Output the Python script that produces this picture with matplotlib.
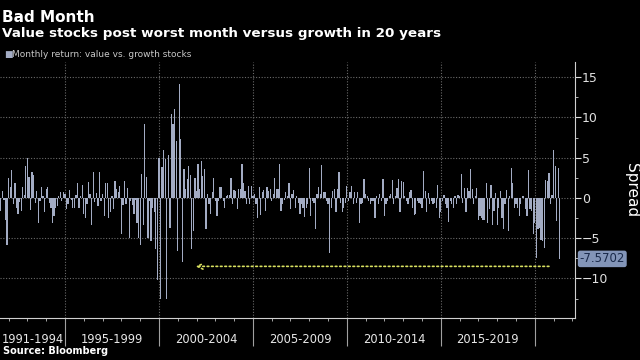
import numpy as np
import matplotlib.pyplot as plt
from matplotlib.ticker import MultipleLocator
from matplotlib.transforms import blended_transform_factory

# monthly spread (value minus growth), first bar is Aug 1991
start_month = 7
spread_a = [-1.6, 0.9, -0.3, -2.8, -5.9, 2.5, 1.3, 3.5, -0.8, 1.8, -1.2, -2.0, -0.5, -1.6, 1.3, 0.4,
            4.0, 5.0, 2.6, -1.5, 3.2, 2.8, -0.6, 0.9, -3.1, -0.4, 1.3, 0.3, -1.8, 1.1, 1.4, -0.6,
            -1.2, -3.1, -2.2, -1.2, -1.0, 0.3, 0.8, -0.4, 0.8, 0.5, -1.4, -0.8, 1.0, -0.3, -1.2, -1.3,
            0.4, 1.9, -1.2, 0.2, 1.6, -2.0, -2.5, -0.8, 2.0, 0.5, -3.3, 3.2, -0.5, 0.6, -1.0]
spread_b = [3.2, -0.4, 0.5, -2.3, 1.9, 1.8, -2.5, -1.8, 0.3, -1.4, 2.1, 1.1, 0.8, 1.5, -4.5, -0.9,
            2.1, -0.8, 1.2, -5.0, -0.4, -0.9, -2.0, -0.2, -3.1, -5.0, -5.8, 3.0, -3.3, 9.2, 2.6, -5.0,
            -0.4, -5.4, -1.2, -1.8, -6.4, -10.2, 5.0, -12.6, 3.8, 5.9, 4.8, -12.5, 5.3, -3.7, 10.4, 9.2,
            11.0, 7.1, -6.6, 14.2, 7.3, -7.9, 3.6, 1.1, 2.3, 4.0, 2.8, -6.4]
spread_c = [-4.1, 2.5, 0.9, 4.2, 1.1, 4.6, 2.75, 3.6, -3.9, 0.5, -0.8, -2.0, 0.75, 2.5, -0.4, -2.25,
            -0.4, 1.3, 1.4, -0.4, -1.2, 0.3, 0.4, 0.4, 2.5, -0.8, 1.0, 0.9, -1.4, 1.1, 1.1, 4.2,
            1.8, 0.9, -0.8, 1.5, -0.8, 1.5, 0.3, 0.5, -0.8, -2.5, 1.3, -2.1, 0.8, 1.0, -1.6, 1.4,
            0.9, 1.1, -0.4, 0.5, 2.5, 1.1, 1.1, 4.2, -1.6, -0.8, -0.2, 0.7, 0.3]
spread_d = [1.8, -1.4, 0.5, 1.0, -1.2, 0.3, -0.6, -2.0, -0.8, -1.2, -2.4, -1.2, -0.8, 3.7, -2.25, -0.4,
            -0.6, -3.9, 0.5, 1.4, 0.5, 4.1, 0.7, 0.7, -0.4, -0.8, -6.8, -1.2, 0.9, 1.1, -1.8, 1.1,
            3.2, -0.6, -1.8, -1.2, -0.6, 1.5, -0.4, 0.8, 1.5, -0.7, 0.7, -0.6, 0.7, -3.1, -0.8, -0.6,
            2.4, 0.5, 0.3, -0.4, -0.8, -0.4, -0.4, -2.5, 0.3, -0.8, 0.5, -0.4]
spread_e = [2.3, -2.25, -0.8, -0.4, 0.3, 0.5, 2.2, -0.8, 0.3, 1.2, 2.3, -1.8, 2.1, 2.0, 0.3, -0.4,
            -0.8, 0.7, 1.0, -1.2, -2.1, -2.0, -0.4, -0.6, -0.8, -1.2, 3.4, 0.9, -1.8, 0.6, -0.8, -0.4,
            -0.8, -0.6, -1.2, 1.6, -2.5, -1.8, -0.4, 0.4, -0.8, -1.2, -3.0, -0.4, -0.8, -1.2, 0.3, -0.8,
            0.4, 0.3, 3.0, -0.6, 1.2, -1.8, 1.2, 0.9, 3.6, 1.1, -0.8, 0.2]
spread_f = [1.2, -2.8, -2.25, -2.5, -2.7, -2.8, 1.8, -3.1, -1.4, 1.6, -3.3, -1.6, 0.6, -3.3, -1.2, 0.9,
            -2.5, -3.9, -0.8, 1.0, -4.1, 0.2, 3.7, 1.8, -1.2, -0.8, -1.2, -2.25, -0.8, 0.2, 0.25, -1.4,
            -2.25, 3.5, -1.4, -1.6, -4.5, -3.1, -7.5, -3.9, -3.7, -5.2, -5.3, -6.2, 2.25, 2.1, 3.1, -0.8,
            0.4, 6.0, 4.0, -2.9, 3.7, -7.5702]

period_edges = [1995, 2000, 2005, 2010, 2015, 2020]
period_labels = ['1991-1994', '1995-1999', '2000-2004', '2005-2009', '2010-2014', '2015-2019']
y_ticks = [15, 10, 5, 0, -5, -10]

# yellow "worst month" arrow
arrow_y = -8.5
arrow_from = 2020.9
arrow_to = 2001.8

spread = np.concatenate([spread_a, spread_b, spread_c, spread_d, spread_e, spread_f])
months = np.arange(start_month, start_month + len(spread))
years = 1991 + months / 12

bar_color = '#a3acc4'
grid_color = '#6a6a6a'
plt.rcParams['font.family'] = 'DejaVu Sans'

fig = plt.figure(figsize=(6.4, 3.6), dpi=100, facecolor='black')
ax = fig.add_axes([0.0, 0.117, 0.898, 0.711])
ax.set_facecolor('black')

ax.bar(years, spread, width=0.8 / 12, color=bar_color, lw=0, zorder=3)

x0, x1 = 1991 + 6.5 / 12, 1991 + 373.5 / 12
ax.set_xlim(x0, x1)
ax.set_ylim(-14.9, 16.9)

# dotted grid
for yt in y_ticks:
    ax.axhline(yt, color=grid_color, lw=0.8, ls=(0, (1, 1.5)), zorder=1)
for xe in period_edges:
    ax.axvline(xe, color=grid_color, lw=0.8, ls=(0, (1, 1.5)), zorder=1)

for s in ['top', 'left']:
    ax.spines[s].set_visible(False)
ax.spines['bottom'].set_color('#d0d0d0')
ax.spines['right'].set_color('#d0d0d0')

# right axis
ax.yaxis.tick_right()
ax.set_yticks(y_ticks)
ax.yaxis.set_minor_locator(MultipleLocator(2.5))
ax.tick_params(axis='y', which='major', colors='#e0e0e0', length=4, labelsize=9, pad=1)
ax.tick_params(axis='y', which='minor', colors='#d0d0d0', length=2)
ax.yaxis.set_label_position('right')
ax.set_ylabel('Spread', rotation=270, color='white', fontsize=11, labelpad=22)

# bottom axis: period separators + yearly ticks
ax.set_xticks(period_edges)
ax.set_xticklabels([])
ax.xaxis.set_minor_locator(MultipleLocator(1))
ax.tick_params(axis='x', which='major', colors='#a0a0a0', length=20, width=0.8)
ax.tick_params(axis='x', which='minor', colors='#c0c0c0', length=2)

trans_x = blended_transform_factory(ax.transData, ax.transAxes)
starts = [x0] + period_edges[:-1]
for a, b, lab in zip(starts, period_edges, period_labels):
    ax.text((a + b) / 2, -0.085, lab, transform=trans_x, ha='center', va='center',
            color='#e8e8e8', fontsize=8.3)

# arrow + last value label
ax.annotate('', xy=(arrow_to, arrow_y), xytext=(arrow_from, arrow_y),
            arrowprops=dict(arrowstyle='->', color='#d8e060', lw=1.2, ls=':'), zorder=4)
trans_y = blended_transform_factory(ax.transAxes, ax.transData)
ax.annotate('%.4f' % spread[-1], xy=(1.0, spread[-1]), xycoords=trans_y,
            xytext=(3.5, 0), textcoords='offset points', ha='left', va='center',
            fontsize=8.5, color='#1a2a4a',
            bbox=dict(boxstyle='round,pad=0.15,rounding_size=0.2', fc='#8395b8', ec='none'))

# titles
fig.text(0.003, 0.972, 'Bad Month', color='white', fontsize=11, fontweight='bold', va='top')
fig.text(0.003, 0.925, 'Value stocks post worst month versus growth in 20 years',
         color='white', fontsize=9.7, fontweight='bold', va='top')
fig.text(0.006, 0.848, '\u25a0', color=bar_color, fontsize=6.5, va='center')
fig.text(0.018, 0.848, 'Monthly return: value vs. growth stocks', color='#c8c8c8',
         fontsize=6.5, va='center')
fig.text(0.005, 0.012, 'Source: Bloomberg', color='white', fontsize=7, fontweight='bold', va='bottom')

plt.savefig('out.png', dpi=100, facecolor='black')
